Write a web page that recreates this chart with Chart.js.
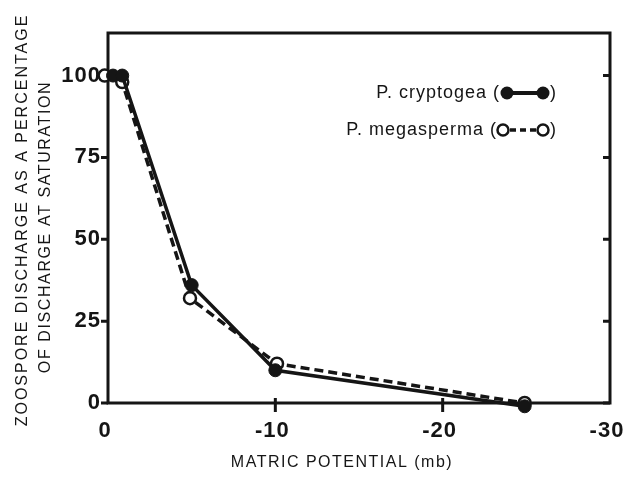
<!DOCTYPE html>
<html>
<head>
<meta charset="utf-8">
<script src="https://cdn.jsdelivr.net/npm/chart.js@4.4.1/dist/chart.umd.min.js"></script>
<style>
  html, body { margin: 0; padding: 0; background: #fff; }
  canvas { display: block; }
</style>
</head>
<body>
<canvas id="chart" width="625" height="481"></canvas>
<script>
// Matric potential (mb) and zoospore discharge (% of discharge at saturation)
const cryptogeaPotential = [-0.3, -0.85, -5.0, -10.0, -24.9];
const cryptogeaDischarge = [100, 100, 36, 10, -1];
const megaspermaPotential = [0.2, -0.85, -4.9, -10.1, -24.9];
const megaspermaDischarge = [100, 98, 32, 12, 0];

const xTickValues = [0, -10, -20, -30];
const yTickValues = [0, 25, 50, 75, 100];

const xTitle = 'MATRIC POTENTIAL (mb)';
const yTitle = ['ZOOSPORE DISCHARGE AS A PERCENTAGE', 'OF DISCHARGE AT SATURATION'];

const INK = '#151515';

function toPoints(xs, ys) {
    return xs.map((x, i) => ({ x: x, y: ys[i] }));
}

// Frame, tick marks, axis titles and legend
const framePlugin = {
    id: 'frame',
    beforeDraw(chart) {
        chart.ctx.letterSpacing = '1px';
    },
    beforeDatasetsDraw(chart) {
        const { ctx, chartArea: a, scales } = chart;
        ctx.save();
        ctx.strokeStyle = INK;
        ctx.lineWidth = 3;
        ctx.strokeRect(a.left, a.top, a.right - a.left, a.bottom - a.top);
        ctx.beginPath();
        yTickValues.forEach(v => {
            const py = scales.y.getPixelForValue(v);
            ctx.moveTo(a.left - 7, py);
            ctx.lineTo(a.left, py);
            ctx.moveTo(a.right - 7, py);
            ctx.lineTo(a.right, py);
        });
        xTickValues.slice(1, -1).forEach(v => {
            const px = scales.x.getPixelForValue(v);
            ctx.moveTo(px, a.bottom - 5);
            ctx.lineTo(px, a.bottom + 9);
        });
        ctx.stroke();
        ctx.restore();
    },
    afterDraw(chart) {
        const ctx = chart.ctx;
        ctx.save();
        ctx.fillStyle = INK;
        ctx.strokeStyle = INK;

        // axis titles
        ctx.font = '16px "Liberation Sans"';
        ctx.letterSpacing = '1.5px';
        ctx.textAlign = 'center';
        ctx.textBaseline = 'middle';
        ctx.fillText(xTitle, 342, 463);

        ctx.letterSpacing = '2px';
        ctx.save();
        ctx.translate(23, 220);
        ctx.rotate(-Math.PI / 2);
        ctx.fillText(yTitle[0], 0, 0);
        ctx.restore();
        ctx.save();
        ctx.translate(46, 227);
        ctx.rotate(-Math.PI / 2);
        ctx.letterSpacing = '1.6px';
        ctx.fillText(yTitle[1], 0, 0);
        ctx.restore();

        // legend
        ctx.font = '18px "Liberation Sans"';
        ctx.letterSpacing = '1px';
        ctx.textAlign = 'right';
        ctx.fillText('P. cryptogea (', 500, 93);
        ctx.fillText('P. megasperma (', 497, 130);
        ctx.textAlign = 'left';
        ctx.fillText(')', 550, 93);
        ctx.fillText(')', 550, 130);

        // filled symbol
        ctx.lineWidth = 4;
        ctx.beginPath();
        ctx.moveTo(510, 93);
        ctx.lineTo(540, 93);
        ctx.stroke();
        [507, 543].forEach(cx => {
            ctx.beginPath();
            ctx.arc(cx, 93, 6.5, 0, Math.PI * 2);
            ctx.fill();
        });

        // open symbol
        ctx.lineWidth = 3.5;
        ctx.setLineDash([6, 4]);
        ctx.beginPath();
        ctx.moveTo(510, 130);
        ctx.lineTo(537, 130);
        ctx.stroke();
        ctx.setLineDash([]);
        ctx.lineWidth = 2.5;
        ctx.fillStyle = '#fff';
        [503, 543].forEach(cx => {
            ctx.beginPath();
            ctx.arc(cx, 130, 5.5, 0, Math.PI * 2);
            ctx.fill();
            ctx.stroke();
        });
        ctx.restore();
    }
};

const ctx = document.getElementById('chart').getContext('2d');
const chart = new Chart(ctx, {
    type: 'scatter',
    data: {
        datasets: [{
            label: 'P. cryptogea',
            data: toPoints(cryptogeaPotential, cryptogeaDischarge),
            showLine: true,
            borderColor: INK,
            borderWidth: 3.5,
            pointRadius: 6.5,
            pointBorderWidth: 1,
            pointBackgroundColor: INK,
            pointBorderColor: INK,
            clip: false
        }, {
            label: 'P. megasperma',
            data: toPoints(megaspermaPotential, megaspermaDischarge),
            showLine: true,
            borderColor: INK,
            borderWidth: 3.5,
            borderDash: [9, 5],
            pointRadius: 6,
            pointBorderWidth: 2.5,
            pointBackgroundColor: '#fff',
            pointBorderColor: INK,
            clip: false
        }]
    },
    options: {
        responsive: false,
        animation: false,
        layout: {
            padding: { top: 33, right: 15, left: 0, bottom: 0 }
        },
        plugins: {
            legend: { display: false },
            tooltip: { enabled: false }
        },
        scales: {
            x: {
                type: 'linear',
                min: -30,
                max: 0,
                reverse: true,
                grid: { display: false, drawTicks: false },
                border: { display: false },
                afterBuildTicks: scale => {
                    scale.ticks = xTickValues.map(v => ({ value: v }));
                },
                afterFit: scale => {
                    scale.height = 78;
                    scale.paddingLeft = 0;
                    scale.paddingRight = 0;
                },
                ticks: {
                    color: INK,
                    padding: 15,
                    labelOffset: -3,
                    maxRotation: 0,
                    font: { family: '"Liberation Sans"', size: 22, weight: 'bold' },
                    callback: v => String(v)
                }
            },
            y: {
                type: 'linear',
                min: 0,
                max: 113,
                grid: { display: false, drawTicks: false },
                border: { display: false },
                afterBuildTicks: scale => {
                    scale.ticks = yTickValues.map(v => ({ value: v }));
                },
                afterFit: scale => {
                    scale.width = 108;
                    scale.paddingTop = 0;
                    scale.paddingBottom = 0;
                },
                ticks: {
                    color: INK,
                    padding: 7,
                    font: { family: '"Liberation Sans"', size: 22, weight: 'bold' }
                }
            }
        }
    },
    plugins: [framePlugin]
});
</script>
</body>
</html>
